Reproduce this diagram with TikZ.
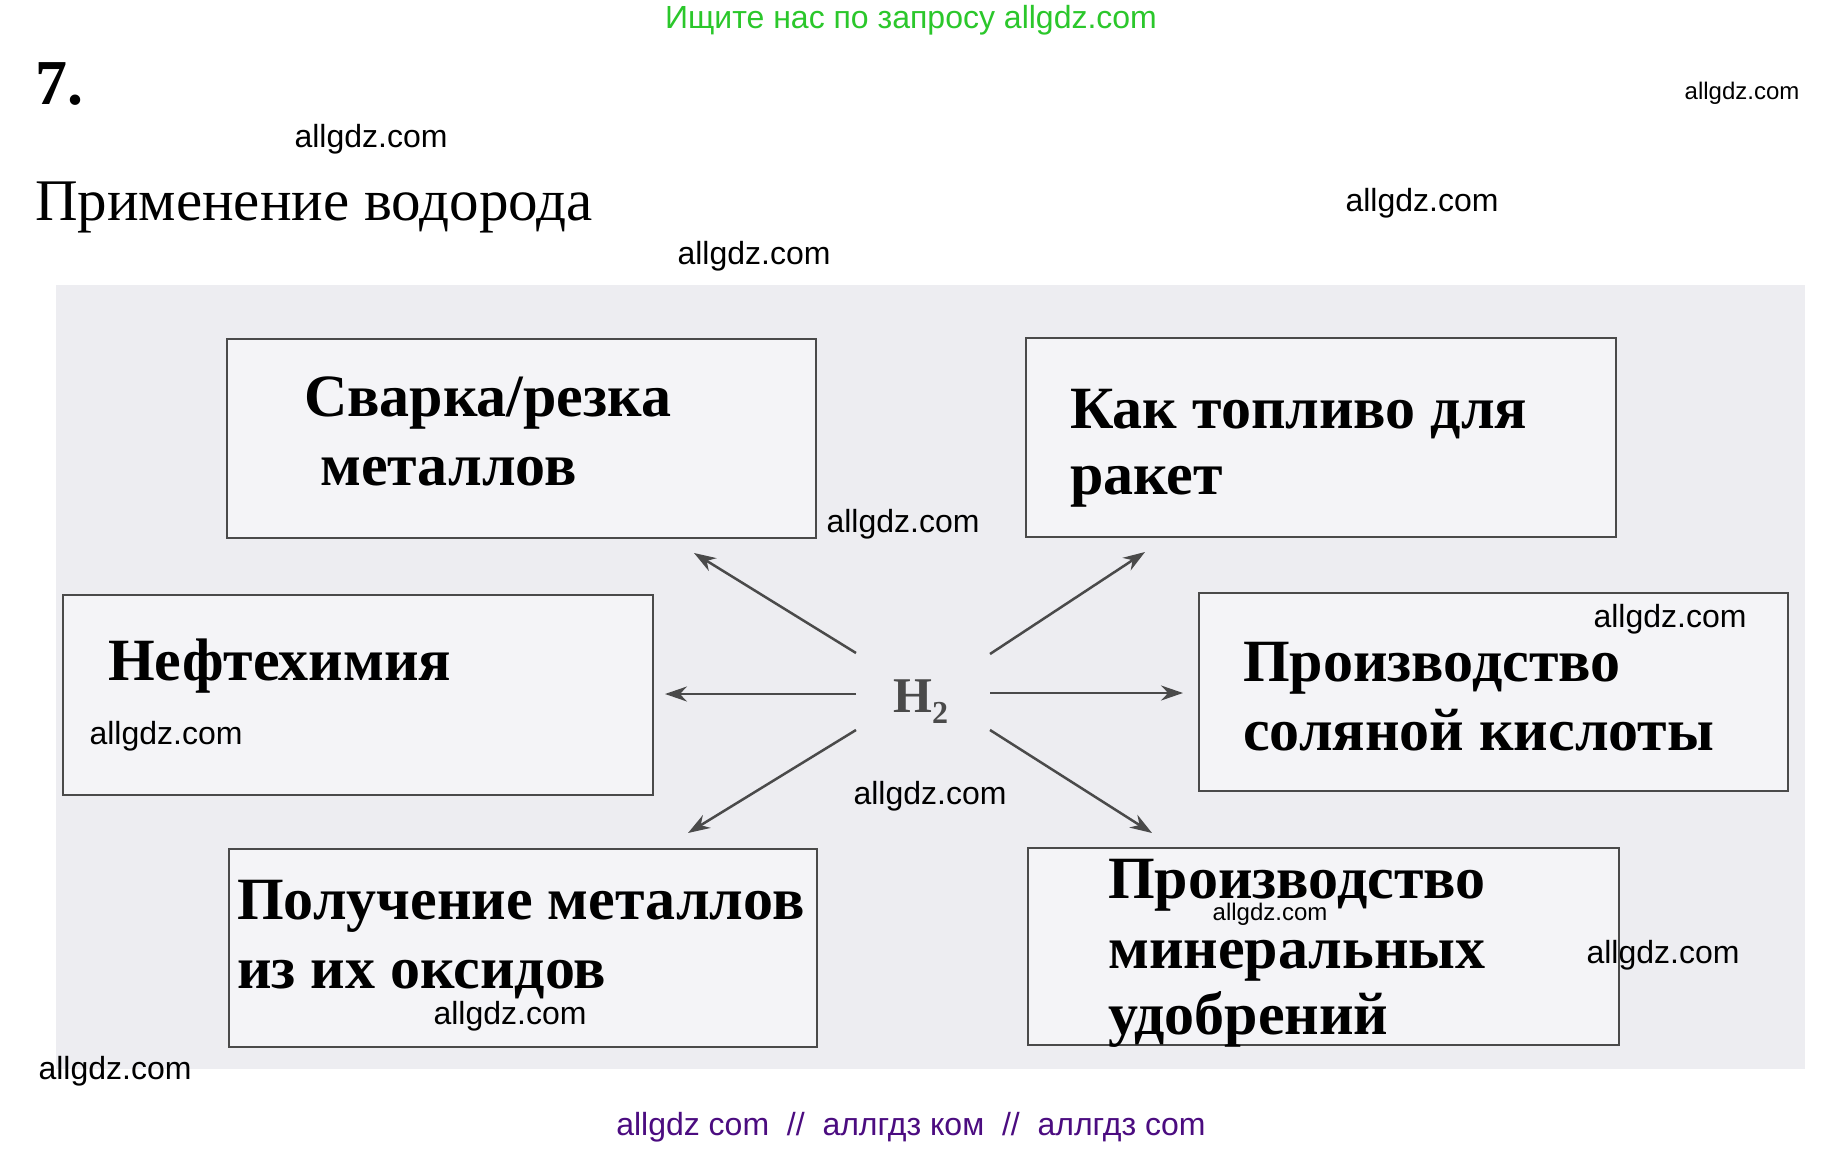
\documentclass[tikz,border=0pt]{standalone}
\usepackage{fontspec}
\setmainfont{Liberation Serif}
\newfontfamily\wmfont{Liberation Sans}
\usetikzlibrary{arrows.meta}
\definecolor{bgc}{HTML}{EDEDF1}
\definecolor{boxfill}{HTML}{F4F4F7}
\definecolor{boxline}{HTML}{4A4A4A}
\definecolor{arrc}{HTML}{4A4A4A}
\definecolor{topgreen}{HTML}{2BC72B}
\definecolor{botpurple}{HTML}{4B0C80}
\tikzset{
  ubox/.style={draw=boxline, line width=2.8pt, fill=boxfill, inner sep=0pt},
  btxt/.style={anchor=base west, inner sep=0pt, font=\bfseries\fontsize{60}{70}\selectfont},
  wm/.style={inner sep=0pt, font=\wmfont\fontsize{32}{36}\selectfont},
  wms/.style={inner sep=0pt, font=\wmfont\fontsize{24}{28}\selectfont},
  arr/.style={draw=arrc, line width=2.5pt, -{Stealth[length=22pt,width=15pt]}}
}
\begin{document}
\begin{tikzpicture}[x=1pt,y=-1pt]
\useasboundingbox (0,0) rectangle (1822,1150);
\fill[white] (0,0) rectangle (1822,1150);
\fill[bgc] (56,285) rectangle (1805,1069);

% header
\node[inner sep=0pt, text=topgreen, font=\wmfont\fontsize{32}{36}\selectfont] (top) at (911,20) {Ищите нас по запросу allgdz.com};
\node[anchor=base west, inner sep=0pt, font=\bfseries\fontsize{64}{70}\selectfont] (num) at (35,105) {7.};
\node[anchor=base west, inner sep=0pt, font=\fontsize{59}{70}\selectfont] (title) at (35,221) {Применение водорода};

% boxes
\node[ubox, minimum width=589pt, minimum height=199pt] (b1) at (521.5,438.5) {};
\node[ubox, minimum width=590pt, minimum height=199pt] (b2) at (1321,437.5) {};
\node[ubox, minimum width=590pt, minimum height=200pt] (b3) at (358,695) {};
\node[ubox, minimum width=589pt, minimum height=198pt] (b4) at (1493.5,692) {};
\node[ubox, minimum width=588pt, minimum height=198pt] (b5) at (523,948) {};
\node[ubox, minimum width=591pt, minimum height=197pt] (b6) at (1323.5,946.5) {};

% box texts
\node[btxt] (t1a) at (304,416) {Сварка/резка};
\node[btxt] (t1b) at (320,485) {металлов};
\node[btxt] (t2a) at (1070,428) {Как топливо для};
\node[btxt] (t2b) at (1070,494) {ракет};
\node[btxt] (t3) at (108,680) {Нефтехимия};
\node[btxt] (t4a) at (1243,681) {Производство};
\node[btxt] (t4b) at (1243,750) {соляной кислоты};
\node[btxt] (t5a) at (237,919) {Получение металлов};
\node[btxt] (t5b) at (237,988) {из их оксидов};
\node[btxt] (t6a) at (1108,898) {Производство};
\node[btxt] (t6b) at (1108,968) {минеральных};
\node[btxt] (t6c) at (1108,1034) {удобрений};

% H2
\node[anchor=base west, inner sep=0pt, text=arrc, font=\bfseries\fontsize{50}{52}\selectfont] (h2) at (893,712) {H\raisebox{-0.22em}{\fontsize{32}{32}\selectfont 2}};

% arrow coordinates
\coordinate (sUL) at (856,653); \coordinate (eUL) at (694,553);
\coordinate (sUR) at (990,654); \coordinate (eUR) at (1145,552);
\coordinate (sL) at (856,694);  \coordinate (eL) at (665,694);
\coordinate (sR) at (990,693);  \coordinate (eR) at (1183,693);
\coordinate (sDL) at (856,730); \coordinate (eDL) at (688,833);
\coordinate (sDR) at (990,730); \coordinate (eDR) at (1152,833);
\draw[arr] (sUL) -- (eUL);
\draw[arr] (sUR) -- (eUR);
\draw[arr] (sL) -- (eL);
\draw[arr] (sR) -- (eR);
\draw[arr] (sDL) -- (eDL);
\draw[arr] (sDR) -- (eDR);

% watermarks
\node[wms] (w1) at (1742,93) {allgdz.com};
\node[wm] (w2) at (371,139) {allgdz.com};
\node[wm] (w3) at (1422,203) {allgdz.com};
\node[wm] (w4) at (754,256) {allgdz.com};
\node[wm] (w5) at (903,524) {allgdz.com};
\node[wm] (w6) at (1670,619) {allgdz.com};
\node[wm] (w7) at (166,736) {allgdz.com};
\node[wm] (w8) at (930,796) {allgdz.com};
\node[wms] (w9) at (1270,914) {allgdz.com};
\node[wm] (w10) at (1663,955) {allgdz.com};
\node[wm] (w11) at (510,1016) {allgdz.com};
\node[wm] (w12) at (115,1071) {allgdz.com};

% footer
\node[inner sep=0pt, text=botpurple, font=\wmfont\fontsize{32}{36}\selectfont] (bot) at (911,1127) {allgdz com\ \ //\ \ аллгдз ком\ \ //\ \ аллгдз com};
\end{tikzpicture}
\end{document}
